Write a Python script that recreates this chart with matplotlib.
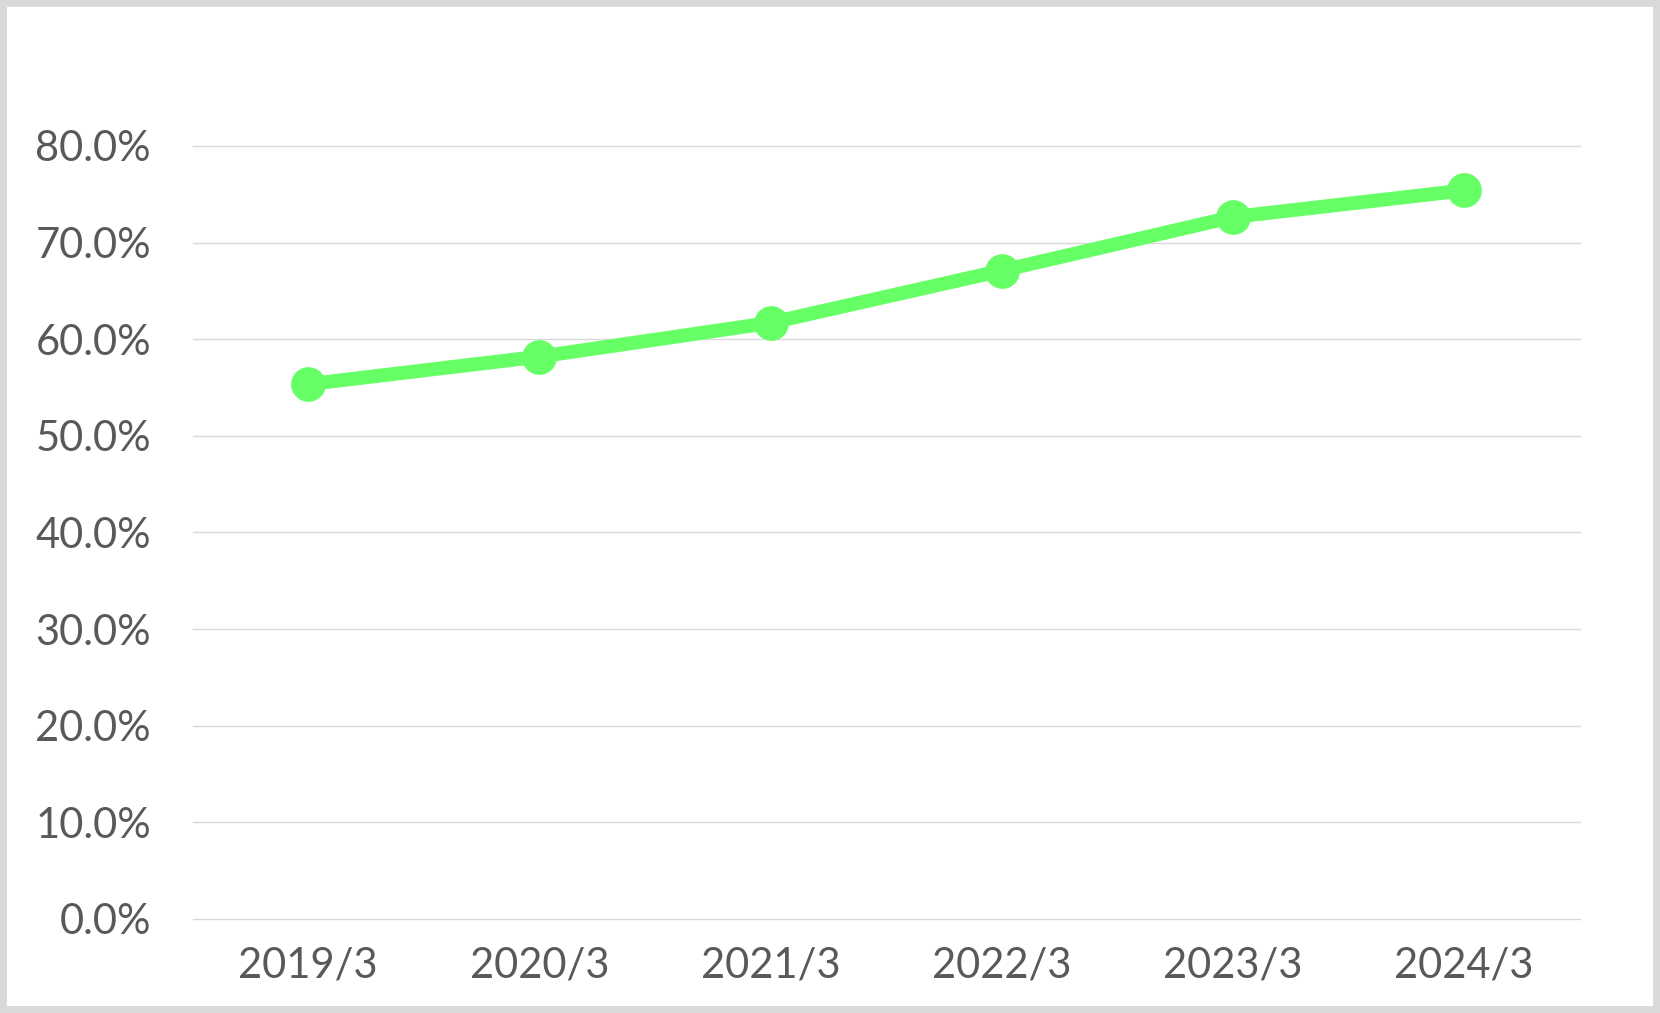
import matplotlib
matplotlib.use("Agg")
import matplotlib.pyplot as plt
from matplotlib.patches import Rectangle
from matplotlib.ticker import FuncFormatter, MultipleLocator

# values
periods = ['2019/3', '2020/3', '2021/3', '2022/3', '2023/3', '2024/3']
ratio = [0.5535, 0.582, 0.617, 0.671, 0.7265, 0.754]

plt.rcParams['font.family'] = ['Lato', 'DejaVu Sans']

fig = plt.figure(figsize=(16.6, 10.13), dpi=100)
ax = fig.add_axes([0.1161, 0.0928, 0.8355, 0.7631])

x = range(len(periods))
ax.plot(x, ratio, color='#66FF66', lw=10, marker='o', ms=24, zorder=3)

ax.set_xlim(-0.5, len(periods) - 0.5)
ax.set_ylim(0, 0.8)
ax.yaxis.set_major_locator(MultipleLocator(0.1))
ax.yaxis.set_major_formatter(FuncFormatter(lambda v, p: f'{v*100:.1f}%'))
ax.set_xticks(list(x))
ax.set_xticklabels(periods)

ax.grid(axis='y', color='#D9D9D9', lw=1)
for gl in ax.get_ygridlines():
    gl.set_clip_on(False)
ax.set_axisbelow(True)
for s in ax.spines.values():
    s.set_visible(False)
ax.tick_params(axis='both', length=0, labelsize=30, colors='#595959')
ax.tick_params(axis='y', pad=30)
ax.tick_params(axis='x', pad=20)

# light grey frame round the whole chart
fig.patches.append(Rectangle((0, 0), 1, 1, transform=fig.transFigure, fill=False,
                             edgecolor='#D9D9D9', lw=10))

fig.savefig('out.png', dpi=100)
